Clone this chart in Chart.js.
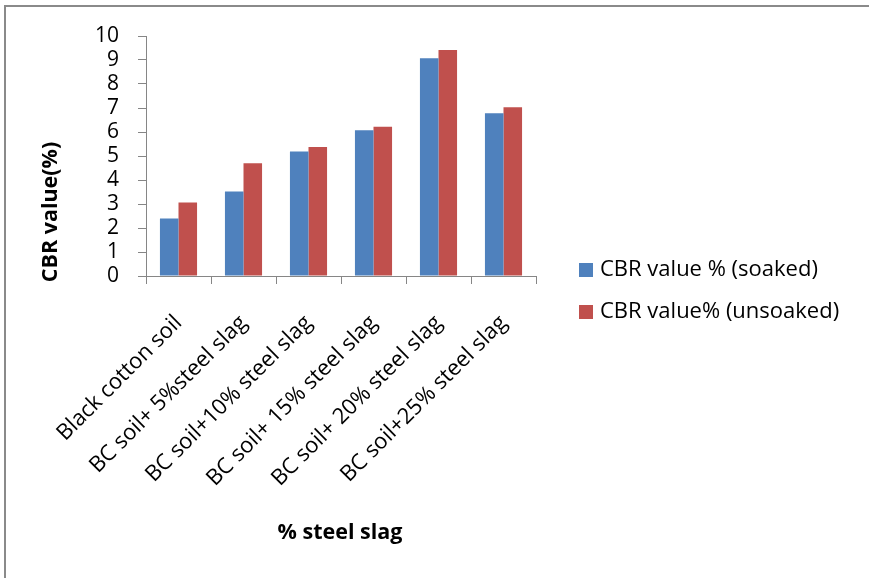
<!DOCTYPE html>
<html>
<head>
<meta charset="utf-8">
<script src="https://cdn.jsdelivr.net/npm/chart.js@4/dist/chart.umd.min.js"></script>
<style>
  html, body { margin: 0; padding: 0; background: #fff; }
  #wrap { position: relative; width: 869px; height: 578px; }
  #frame { position: absolute; left: 4px; top: 5px; right: -10px; bottom: -10px;
           border-top: 2px solid #8a8a8a; border-left: 2px solid #8a8a8a; pointer-events: none; }
</style>
</head>
<body>
<div id="wrap">
  <canvas id="c" width="869" height="578"></canvas>
  <div id="frame"></div>
</div>
<script>
const categories = [
  'Black cotton soil',
  'BC soil+ 5%steel slag',
  'BC soil+10% steel slag',
  'BC soil+ 15% steel slag',
  'BC soil+ 20% steel slag',
  'BC soil+25% steel slag'
];
const soaked = [2.4, 3.52, 5.19, 6.07, 9.07, 6.78];
const unsoaked = [3.06, 4.7, 5.37, 6.22, 9.42, 7.03];
const seriesNames = ['CBR value % (soaked)', 'CBR value% (unsoaked)'];
const xTitle = '% steel slag';
const yTitle = 'CBR value(%)';

const FONT = '"Open Sans", Lato, sans-serif';
const AXIS = '#868686';

// axis titles placed around the plot
const axisTitles = {
  id: 'axisTitles',
  afterDraw(chart) {
    const ctx = chart.ctx;
    ctx.save();
    ctx.fillStyle = '#000';
    ctx.font = 'bold 21.5px ' + FONT;
    ctx.textAlign = 'center';
    ctx.textBaseline = 'middle';
    ctx.fillText(xTitle, 340, 533);
    ctx.translate(51, 212);
    ctx.rotate(-Math.PI / 2);
    ctx.fillText(yTitle, 0, 0);
    ctx.restore();
  }
};

// series key on the right
const sideLegend = {
  id: 'sideLegend',
  afterDraw(chart) {
    const ctx = chart.ctx;
    ctx.save();
    ctx.font = '22px ' + FONT;
    ctx.textBaseline = 'middle';
    ctx.textAlign = 'left';
    chart.data.datasets.forEach((ds, i) => {
      const cy = 270 + i * 42;
      ctx.fillStyle = ds.backgroundColor;
      ctx.fillRect(579, cy - 7, 14, 14);
      ctx.fillStyle = '#000';
      ctx.fillText(ds.label, 600, cy);
    });
    ctx.restore();
  }
};

new Chart(document.getElementById('c'), {
  type: 'bar',
  data: {
    labels: categories,
    datasets: [
      { label: seriesNames[0], data: soaked, backgroundColor: '#4F81BD' },
      { label: seriesNames[1], data: unsoaked, backgroundColor: '#C0504D' }
    ]
  },
  options: {
    responsive: false,
    animation: false,
    devicePixelRatio: 1,
    layout: { padding: { top: 36, right: 333, left: 0, bottom: 0 } },
    datasets: { bar: { categoryPercentage: 0.571, barPercentage: 1.0 } },
    plugins: { legend: { display: false }, tooltip: { enabled: false } },
    scales: {
      x: {
        grid: { display: true, drawOnChartArea: false, color: AXIS, tickLength: 8, offset: true },
        border: { color: AXIS, width: 1 },
        ticks: {
          color: '#000', font: { family: FONT, size: 22 },
          minRotation: 45, maxRotation: 45, autoSkip: false, padding: 26
        },
        afterFit(s) { s.height = 302; }
      },
      y: {
        min: 0, max: 10,
        grid: { display: true, drawOnChartArea: false, color: AXIS, tickLength: 8 },
        border: { color: AXIS, width: 1 },
        ticks: { stepSize: 1, autoSkip: false, color: '#000', font: { family: FONT, size: 21 }, padding: 19 },
        afterFit(s) { s.width = 146; }
      }
    }
  },
  plugins: [axisTitles, sideLegend]
});
</script>
</body>
</html>
